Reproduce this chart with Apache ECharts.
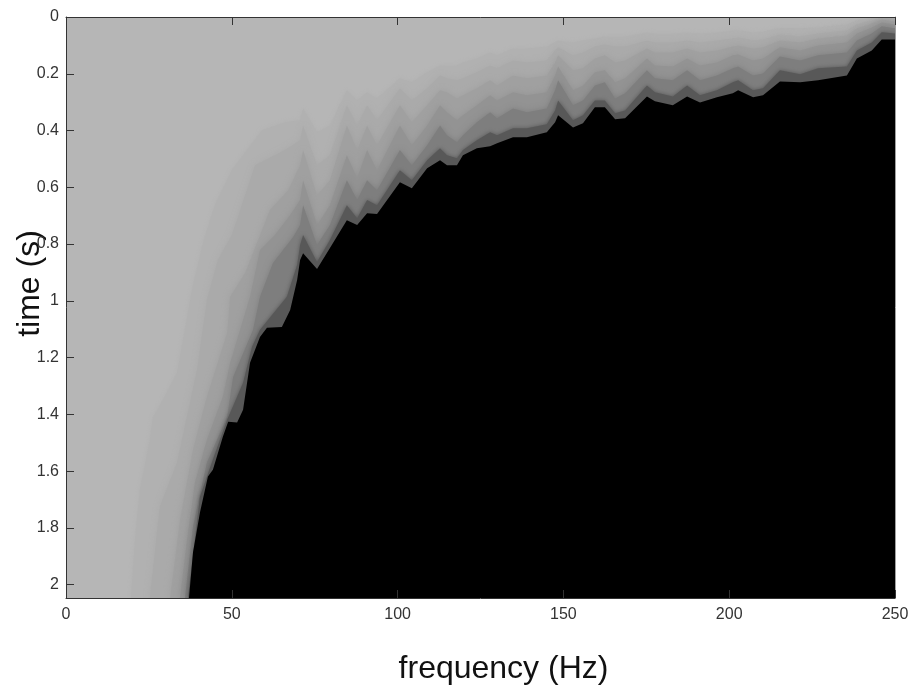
<!DOCTYPE html>
<html><head><meta charset="utf-8">
<style>html,body{margin:0;padding:0;background:#fff}#c{width:912px;height:685px}</style>
<script src="https://cdn.jsdelivr.net/npm/echarts@6/dist/echarts.min.js"></script>
</head><body><div id="c"></div>
<script>
const freqHigh=[70.6,71.5,75.7,79.6,84.7,87.8,90.8,93.8,100.7,104.3,108.9,112.8,114.9,117.9,119.7,123.9,127.9,130,134.8,139,145,147.5,148.4,152.9,155.9,159.5,162.5,165.6,168.6,175.2,177.6,183,187.3,191.2,196.3,201.1,202.7,207.2,210.2,215.3,221.4,226.8,235.5,238.5,243,246,250];
const level1Low=[[19.6,2.045],[20.8,1.841],[22.3,1.665],[25.3,1.489],[26.2,1.412],[29.3,1.348],[33.5,1.253],[38,0.962],[41.3,0.796],[44.9,0.663],[50,0.54],[59.1,0.399],[66,0.371]];
const level2Low=[[25.3,2.045],[28.3,1.725],[33.5,1.57],[39.5,1.243],[42.5,0.997],[45.8,0.856],[50,0.768],[57,0.522],[66,0.469]];
const level3Low=[[31.4,2.045],[34.4,1.77],[38.3,1.524],[42.5,1.338],[48.6,1.113],[49.5,0.986],[54,0.902],[57.6,0.796],[61.5,0.68],[67,0.61]];
const level4Low=[[34.4,2.045],[36.5,1.841],[38.9,1.64],[42.5,1.489],[47.3,1.338],[49.5,1.218],[55.5,0.986],[58.5,0.821],[63,0.768],[67.6,0.698]];
const level5Low=[[35.9,2.045],[38.3,1.795],[42.5,1.57],[48.6,1.408],[50.4,1.268],[56.4,1.102],[58.5,0.986],[62.4,0.867],[68.5,0.775]];
const level6Low=[[36.8,2.045],[40.4,1.69],[44.3,1.559],[48.6,1.419],[53.4,1.289],[56.1,1.162],[58.5,1.102],[66.6,0.986],[69.7,0.874]];
const blackLow=[[37.1,2.045],[38.3,1.886],[40.4,1.746],[42.8,1.619],[44.3,1.595],[47.3,1.479],[48.9,1.426],[51.6,1.429],[53.4,1.384],[55.5,1.218],[58.5,1.127],[60.6,1.095],[65.1,1.092],[67.6,1.032],[69.7,0.927]];
const level1High=[.364,.322,.406,.382,.258,.294,.265,.287,.216,.23,.195,.171,.171,.171,.16,.146,.125,.135,.111,.111,.104,.09,.083,.09,.083,.076,.069,.069,.069,.055,.058,.058,.055,.058,.055,.047,.047,.055,.051,.04,.04,.037,.026,.012,.002,.002,.002];
const level2High=[.434,.382,.522,.487,.311,.382,.311,.364,.251,.294,.251,.206,.216,.223,.216,.195,.171,.181,.153,.16,.153,.118,.107,.135,.125,.104,.097,.104,.104,.083,.09,.09,.083,.09,.083,.076,.072,.083,.079,.062,.069,.058,.047,.026,.012,.002,.005];
const level3High=[.522,.469,.628,.575,.382,.469,.382,.452,.311,.371,.311,.258,.265,.287,.276,.251,.223,.241,.206,.216,.206,.16,.135,.188,.181,.146,.135,.16,.153,.111,.125,.125,.111,.125,.118,.104,.1,.111,.107,.083,.09,.076,.065,.04,.023,.009,.016];
const level4High=[.645,.575,.733,.663,.487,.568,.469,.54,.382,.452,.382,.311,.336,.364,.346,.311,.276,.294,.265,.276,.265,.206,.174,.258,.241,.195,.188,.23,.216,.146,.171,.174,.146,.171,.16,.135,.132,.153,.146,.107,.118,.1,.09,.058,.037,.019,.026];
const level5High=[.733,.663,.803,.733,.575,.645,.575,.61,.469,.522,.452,.382,.417,.441,.417,.371,.336,.357,.322,.336,.322,.258,.223,.311,.294,.241,.23,.287,.269,.188,.216,.223,.188,.223,.206,.181,.174,.206,.199,.139,.153,.135,.125,.083,.058,.033,.04];
const level6High=[.803,.768,.863,.786,.663,.709,.645,.663,.54,.575,.505,.462,.487,.498,.469,.434,.406,.417,.392,.392,.378,.329,.294,.364,.346,.294,.294,.339,.329,.241,.265,.28,.241,.276,.258,.23,.223,.258,.251,.188,.202,.181,.174,.118,.09,.054,.058];
const blackHigh=[.856,.832,.888,.814,.716,.733,.691,.694,.582,.603,.533,.505,.522,.522,.487,.462,.455,.445,.424,.424,.406,.371,.346,.389,.374,.318,.318,.36,.357,.28,.297,.311,.28,.301,.283,.269,.258,.283,.276,.227,.23,.223,.206,.146,.118,.079,.079];
const levelColors=['#b1b1b1','#aaaaaa','#a0a0a0','#939393','#7e7e7e','#585858','#000000'];
const levelBlur=[4,6,7,7,6,4,0];
const lows=[level1Low,level2Low,level3Low,level4Low,level5Low,level6Low,blackLow];
const highs=[level1High,level2High,level3High,level4High,level5High,level6High,blackHigh];
const series=lows.map((low,i)=>({
  type:'line',xAxisIndex:0,yAxisIndex:0,showSymbol:false,symbol:'none',silent:true,
  lineStyle:{width:0},
  areaStyle:{origin:'end',color:levelColors[i],opacity:1,shadowBlur:levelBlur[i],shadowColor:levelColors[i]},
  data:low.concat(freqHigh.map((f,j)=>[f,highs[i][j]]))
}));
const chart=echarts.init(document.getElementById('c'),null,{renderer:'canvas'});
const tickColor='#333333',labelFont={fontFamily:'Liberation Sans',fontSize:16,color:'#333333'};
chart.setOption({
  animation:false,backgroundColor:'#ffffff',
  grid:{left:66,right:17,top:17,bottom:87,backgroundColor:'#b6b6b6',show:true,borderWidth:0,outerBoundsMode:'none'},
  xAxis:[
   {type:'value',min:0,max:250,interval:50,position:'bottom',z:5,
    name:'frequency (Hz)',nameLocation:'middle',nameGap:55,nameMoveOverlap:false,
    nameTextStyle:{fontFamily:'Liberation Sans',fontSize:32,color:'#111',padding:[0,0,0,46]},
    axisLine:{onZero:false,lineStyle:{color:tickColor,width:1}},
    axisTick:{inside:true,length:8,lineStyle:{color:tickColor}},
    axisLabel:{...labelFont,margin:9},splitLine:{show:false}},
   {type:'value',min:0,max:250,interval:50,position:'top',z:5,
    axisLine:{onZero:false,lineStyle:{color:tickColor,width:1}},
    axisTick:{inside:true,length:8,lineStyle:{color:tickColor}},
    axisLabel:{show:false},splitLine:{show:false}}
  ],
  yAxis:[
   {type:'value',inverse:true,min:0,max:2.047,interval:0.2,position:'left',z:5,
    name:'time (s)',nameLocation:'middle',nameGap:20,nameMoveOverlap:false,
    nameTextStyle:{fontFamily:'Liberation Sans',fontSize:32,color:'#111',padding:[0,0,0,48]},
    axisLine:{onZero:false,lineStyle:{color:tickColor,width:1}},
    axisTick:{inside:true,length:8,lineStyle:{color:tickColor}},
    axisLabel:{...labelFont,margin:7,showMaxLabel:false},splitLine:{show:false}},
   {type:'value',inverse:true,min:0,max:2.047,position:'right',z:5,
    axisLine:{onZero:false,lineStyle:{color:'#a0a0a0',width:1}},
    axisTick:{show:false},axisLabel:{show:false},splitLine:{show:false}}
  ],
  series:series
});
</script></body></html>
